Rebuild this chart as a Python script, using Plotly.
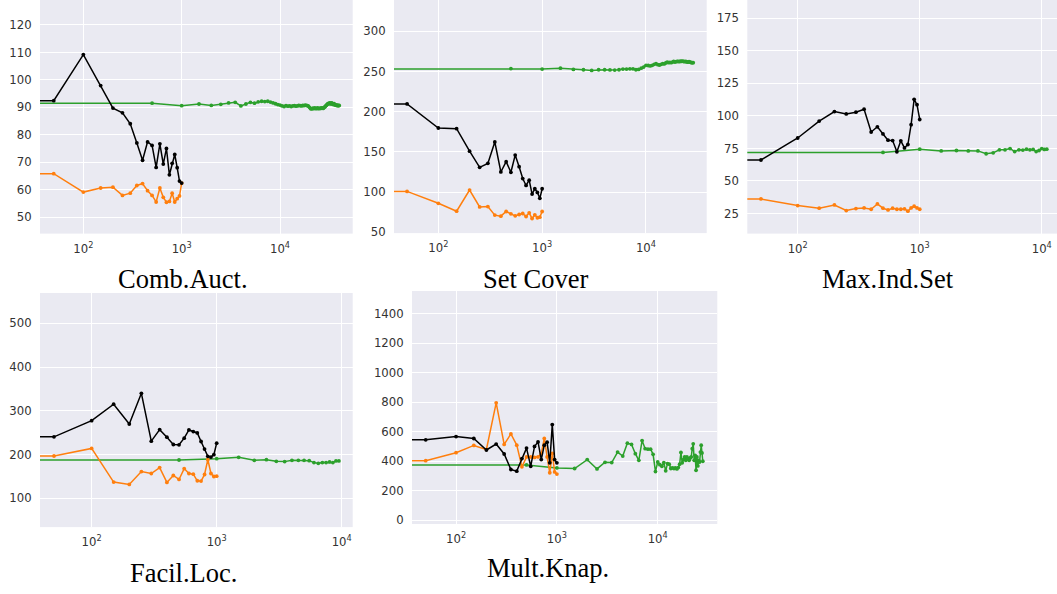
import plotly.graph_objects as go

W, H = 1057, 594

# ---------------- data ----------------
# black / orange series: x = 0, 50, 100, ..., 1000
X_SHORT = [0, 50, 100, 150, 200, 250, 300, 350, 400, 450, 500,
           550, 600, 650, 700, 750, 800, 850, 900, 950, 1000]
GREEN_STEP = 500  # green series sampled at 0, 500, 1000, ...

CA_BLACK = [92.4, 92.4, 109.2, 97.9, 89.7, 88.0, 84.0, 77.0, 70.7, 77.4, 76.1,
            68.1, 76.7, 69.3, 75.0, 65.4, 69.6, 72.8, 68.0, 63.1, 62.4]
CA_ORANGE = [65.8, 65.8, 59.1, 60.6, 60.9, 57.9, 58.7, 61.5, 62.2, 59.6, 57.9,
             55.5, 60.6, 57.2, 55.4, 55.7, 58.7, 55.5, 56.7, 57.7, 62.4]
CA_GREEN = [91.5, 91.5, 90.6, 91.2, 90.7, 91.1, 91.6, 91.8, 90.5, 91.2, 91.8,
            91.5, 92.0, 92.2, 92.1, 92.2, 91.9, 91.6, 91.3, 91.0, 90.8,
            90.5, 90.3, 90.6, 90.4, 90.5, 90.3, 90.5, 90.6, 90.4, 90.5,
            90.7, 90.6, 90.5, 90.7, 90.6, 90.8, 90.7, 90.6, 90.4, 89.9,
            89.5, 89.4, 89.7, 89.5, 89.8, 89.6, 89.5, 89.8, 89.6, 89.5,
            89.7, 89.6, 89.8, 89.7, 89.6, 89.9, 90.1, 90.4, 90.7, 91.0,
            91.2, 91.4, 91.3, 91.6, 91.5, 91.2, 91.6, 91.4, 91.1, 91.0,
            91.3, 91.0, 90.8, 90.9, 90.7, 90.8, 90.6, 90.7, 90.6, 90.7]

SC_BLACK = [209.7, 209.7, 179.7, 178.9, 150.9, 130.8, 135.7, 162.4, 125.0, 137.8, 124.6,
            146.0, 131.6, 116.8, 108.2, 114.8, 97.5, 104.1, 99.6, 92.2, 104.1]
SC_ORANGE = [100.8, 100.8, 86.0, 76.2, 102.5, 81.5, 81.9, 71.3, 70.0, 75.8, 72.9,
             70.4, 72.1, 73.3, 69.6, 74.1, 67.1, 71.7, 68.0, 68.8, 75.8]
SC_GREEN = [253.7, 253.7, 253.0, 254.2, 252.6, 252.2, 251.4, 252.2, 252.2, 252.0, 251.8,
            252.2, 253.0, 253.0, 253.4, 253.4, 252.2, 252.6, 254.2, 255.5, 257.7,
            257.5, 256.9, 257.7, 258.9, 259.8, 258.5, 258.1, 258.9, 259.8, 259.4,
            260.6, 261.8, 261.0, 261.4, 261.0, 261.8, 262.6, 261.8, 262.2, 262.6,
            262.6, 262.2, 263.0, 262.6, 263.0, 262.6, 262.2, 262.6, 262.2, 261.8,
            261.8, 262.2, 261.8, 261.4, 261.0, 261.0, 261.0]

MIS_BLACK = [66.1, 66.1, 83.0, 96.0, 103.3, 101.5, 102.8, 105.1, 87.6, 91.6, 86.1,
             81.3, 81.0, 72.4, 80.8, 75.4, 78.0, 93.2, 112.7, 108.6, 97.2]
MIS_ORANGE = [36.2, 36.2, 31.1, 29.1, 31.6, 27.3, 28.8, 29.3, 28.3, 32.4, 29.1,
              27.8, 29.1, 28.3, 28.3, 28.6, 26.8, 29.3, 30.6, 29.3, 28.3]
MIS_GREEN = [71.9, 71.9, 74.4, 73.1, 73.4, 73.1, 73.1, 70.9, 71.6, 73.9, 73.9,
             74.9, 72.6, 73.9, 73.7, 74.4, 73.9, 74.2, 72.6, 73.4, 74.9, 74.2, 74.4]

FL_BLACK = [240.4, 240.4, 277.4, 315.1, 269.8, 340.0, 230.6, 257.0, 239.6, 223.0, 222.3,
            237.4, 256.2, 252.5, 249.4, 229.8, 212.5, 195.8, 194.3, 199.6, 226.0]
FL_ORANGE = [196.6, 196.6, 214.0, 137.0, 131.7, 161.1, 156.6, 170.2, 136.2, 152.1, 143.0,
             167.9, 156.6, 155.1, 140.0, 139.2, 154.3, 188.3, 156.6, 149.8, 150.6]
FL_GREEN = [187.5, 187.5, 190.6, 193.6, 186.8, 188.3, 184.5, 183.8, 186.8, 186.8, 186.8,
            186.0, 181.5, 180.0, 181.5, 181.5, 183.0, 181.5, 185.3, 185.3]

MK_BLACK = [545, 545, 567, 554, 476, 516, 449, 344, 333, 418, 489,
            366, 500, 531, 411, 509, 529, 389, 648, 411, 389]
MK_ORANGE = [404, 404, 458, 507, 480, 795, 514, 585, 509, 362, 429,
             429, 426, 429, 451, 554, 429, 322, 453, 328, 313]
MK_GREEN = [375, 375, 355, 351, 411, 348, 393, 391, 462, 435, 522,
            514, 451, 406, 540, 485, 482, 482, 447, 330, 395,
            377, 366, 391, 335, 384, 380, 351, 355, 351, 355,
            348, 357, 380, 460, 389, 411, 429, 406, 429, 418,
            406, 422, 429, 485, 518, 406, 440, 339, 429, 368,
            406, 395, 462, 509, 456, 400]

TITLES = ["Comb.Auct.", "Set Cover", "Max.Ind.Set", "Facil.Loc.", "Mult.Knap."]
X_TICKS = [100, 1000, 10000]
X_TICK_TEXT = ["10<sup>2</sup>", "10<sup>3</sup>", "10<sup>4</sup>"]
Y_TICKS = [
    [50, 60, 70, 80, 90, 100, 110, 120],
    [50, 100, 150, 200, 250, 300],
    [25, 50, 75, 100, 125, 150, 175],
    [100, 200, 300, 400, 500],
    [0, 200, 400, 600, 800, 1000, 1200, 1400],
]

COL_BLACK = "#000000"
COL_ORANGE = "#ff7f0e"
COL_GREEN = "#2ca02c"

# ---------------- layout geometry (pixels) ----------------
# (left, right, top, bottom) of each plot area
BOXES = [
    (40, 352.7, 0, 236),
    (394, 706.7, 0, 235.5),
    (747.3, 1057, 0, 236),
    (40, 352.7, 296, 532.5),
    (412, 717.3, 294, 529.3),
]
X_RANGES = [(1.5593, 4.739), (1.573, 4.585), (1.587, 4.125), (1.587, 4.088), (1.563, 4.591)]
Y_RANGES = [(43.97, 129.1), (48.9, 339.0), (9.6, 188.9), (34.0, 569.4), (-24.3, 1551.7)]
TITLE_POS = [(183, 282), (535, 282), (888, 282), (183, 578.5), (548, 574)]

panels = [
    (CA_BLACK, CA_ORANGE, CA_GREEN),
    (SC_BLACK, SC_ORANGE, SC_GREEN),
    (MIS_BLACK, MIS_ORANGE, MIS_GREEN),
    (FL_BLACK, FL_ORANGE, FL_GREEN),
    (MK_BLACK, MK_ORANGE, MK_GREEN),
]


def log_safe(xs):
    # matplotlib clips non-positive x on log axes far to the left; mimic that
    return [x if x > 0 else 1e-3 for x in xs]


fig = go.Figure()
layout = dict(
    width=W, height=H,
    margin=dict(l=0, r=0, t=0, b=0),
    paper_bgcolor="white",
    plot_bgcolor="#EAEAF2",
    showlegend=False,
    annotations=[],
)

tick_font = dict(family="DejaVu Sans", size=11.7, color="#333333")

for i, (blk, org, grn) in enumerate(panels):
    n = i + 1
    xa = "x" if n == 1 else f"x{n}"
    ya = "y" if n == 1 else f"y{n}"
    gx = [GREEN_STEP * k for k in range(len(grn))]
    for ys, xs, col in ((grn, gx, COL_GREEN), (org, X_SHORT, COL_ORANGE), (blk, X_SHORT, COL_BLACK)):
        fig.add_trace(go.Scatter(
            x=log_safe(xs), y=ys, mode="lines+markers",
            line=dict(color=col, width=1.5),
            marker=dict(color=col, size=3.8),
            xaxis=xa, yaxis=ya, hoverinfo="skip",
        ))
    l, r, t, b = BOXES[i]
    xkey = "xaxis" if n == 1 else f"xaxis{n}"
    ykey = "yaxis" if n == 1 else f"yaxis{n}"
    layout[xkey] = dict(
        type="log", domain=[l / W, min(r / W, 1.0)], range=list(X_RANGES[i]),
        anchor=ya, tickvals=X_TICKS, ticktext=X_TICK_TEXT,
        showgrid=True, gridcolor="white", gridwidth=1.2, zeroline=False,
        showline=False, ticks="outside", ticklen=4, tickcolor="rgba(0,0,0,0)",
        tickfont=tick_font,
    )
    layout[ykey] = dict(
        domain=[1 - b / H, 1 - t / H], range=list(Y_RANGES[i]),
        anchor=xa, tickvals=Y_TICKS[i],
        showgrid=True, gridcolor="white", gridwidth=1.2, zeroline=False,
        showline=False, ticks="outside", ticklen=5, tickcolor="rgba(0,0,0,0)",
        tickfont=tick_font,
    )
    tx, ty = TITLE_POS[i]
    layout["annotations"].append(dict(
        text=TITLES[i], x=tx / W, y=1 - ty / H, xref="paper", yref="paper",
        xanchor="center", yanchor="middle", showarrow=False,
        font=dict(family="Liberation Serif", size=26.5, color="black"),
    ))

fig.update_layout(**layout)
fig.write_html("out.html")
